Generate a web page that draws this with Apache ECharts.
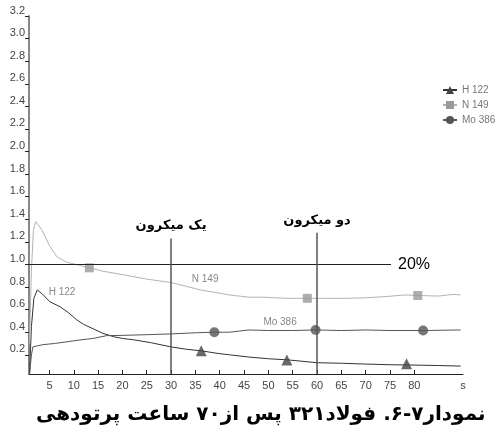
<!DOCTYPE html>
<html>
<head>
<meta charset="utf-8">
<script src="https://cdn.jsdelivr.net/npm/echarts@6/dist/echarts.min.js"></script>
<style>html,body{margin:0;padding:0;background:#fff}#c{width:495px;height:433px}</style>
</head>
<body>
<div id="c"></div>
<script>
// ---- data ----
var X_TICKS = [5,10,15,20,25,30,35,40,45,50,55,60,65,70,75,80];
var X_UNIT_AT = 90;
var Y_TICKS = [0.2,0.4,0.6,0.8,1.0,1.2,1.4,1.6,1.8,2.0,2.2,2.4,2.6,2.8,3.0,3.2];

var H_X = [0.9,1.3,1.8,2.5,3.5,5.1,7.2,9,10.6,12,14,16,18.2,20,22.3,26,30,33,36.2,40,42,46,50,54,60,65,70,75,78.5,85,89.5];
var H_Y = [0.02,0.45,0.70,0.775,0.74,0.67,0.625,0.57,0.51,0.47,0.43,0.39,0.36,0.345,0.333,0.306,0.27,0.25,0.235,0.21,0.20,0.18,0.165,0.155,0.13,0.125,0.118,0.112,0.11,0.105,0.10];

var N_X = [0.9,1.3,1.7,2.2,3.4,5.1,6.5,8.5,10.5,13.2,16,20,25,30,36,42,46,49,54,58,62,66,70,74,78,80.7,85,88,89.5];
var N_Y = [0.30,0.95,1.30,1.38,1.31,1.16,1.07,1.02,1.0,0.97,0.94,0.91,0.87,0.84,0.775,0.73,0.71,0.71,0.70,0.70,0.70,0.70,0.705,0.715,0.73,0.725,0.72,0.735,0.73];

var M_X = [0.9,1.3,1.6,3.7,6,8.6,11,14,16.8,20,25,30,35,38.9,42,46,50,55,59.7,65,70,75,81.8,89.5];
var M_Y = [0.02,0.20,0.27,0.29,0.30,0.315,0.33,0.345,0.37,0.372,0.378,0.385,0.395,0.40,0.40,0.42,0.415,0.415,0.42,0.415,0.42,0.415,0.415,0.42];

var H_MX = [36.2,53.8,78.4], H_MY = [0.235,0.155,0.12];
var N_MX = [13.2,58,80.7],   N_MY = [0.97,0.70,0.725];
var M_MX = [38.9,59.7,81.8], M_MY = [0.40,0.42,0.415];

var SERIES_NAMES = ['H 122','N 149','Mo 386'];
var LEVEL_Y = 1.0, LEVEL_END_X = 75.2, LEVEL_TEXT = '20%';
var MARK_X = [30, 60], MARK_TOP = [1.23, 1.28], MARK_TEXT = ['یک میکرون','دو میکرون'];
var CURVE_LABEL_X = [7.6, 37, 52.4], CURVE_LABEL_Y = [0.75, 0.865, 0.485];
var TITLE = 'نمودار۷-۶. فولاد۳۲۱ پس از۷۰ ساعت پرتودهی';

function zip(a,b){return a.map(function(v,i){return [v,b[i]];});}

var X_MIN = 0.8, Y_MIN = 0.03;
var colors = {line:['#333333','#b4b4b4','#555555'], mark:['#444444','#9a9a9a','#555555']};
var symbols = ['triangle','rect','circle'];
var lines = [zip(H_X,H_Y), zip(N_X,N_Y), zip(M_X,M_Y)];
var marks = [zip(H_MX,H_MY), zip(N_MX,N_MY), zip(M_MX,M_MY)];

var series = [];
SERIES_NAMES.forEach(function(name,i){
  series.push({
    name:name, type:'line', data:lines[i], showSymbol:false, symbol:symbols[i], symbolSize:9,
    lineStyle:{color:colors.line[i], width:1}, itemStyle:{color:colors.mark[i]},
    animation:false, z:3,
    markPoint:{symbol:'circle', symbolSize:0, silent:true, animation:false,
      label:{show:true, formatter:name, color:'#888', fontSize:10, fontFamily:'Liberation Sans', position:'inside'},
      data:[{coord:[CURVE_LABEL_X[i], CURVE_LABEL_Y[i]]}]}
  });
  series.push({
    name:name, type:'scatter', data:marks[i], symbol:symbols[i], symbolSize:i===0?11:(i===1?9:10),
    itemStyle:{color:colors.mark[i]}, animation:false, z:4
  });
});
series[0].markLine = {
  silent:true, symbol:['none','none'], animation:false,
  data:[
    [{coord:[X_MIN, LEVEL_Y], lineStyle:{color:'#222', width:1, type:'solid'},
      label:{show:true, position:'end', formatter:LEVEL_TEXT, fontSize:16, color:'#000', fontFamily:'Liberation Sans', distance:7}},
     {coord:[LEVEL_END_X, LEVEL_Y]}],
    [{coord:[MARK_X[0], Y_MIN], lineStyle:{color:'#555', width:1.5, type:'solid'},
      label:{show:true, position:'end', formatter:MARK_TEXT[0], fontSize:13, fontWeight:'bold', color:'#000', fontFamily:'DejaVu Sans', distance:6}},
     {coord:[MARK_X[0], MARK_TOP[0]]}],
    [{coord:[MARK_X[1], Y_MIN], lineStyle:{color:'#555', width:1.5, type:'solid'},
      label:{show:true, position:'end', formatter:MARK_TEXT[1], fontSize:13, fontWeight:'bold', color:'#000', fontFamily:'DejaVu Sans', distance:6}},
     {coord:[MARK_X[1], MARK_TOP[1]]}]
  ]
};

var chart = echarts.init(document.getElementById('c'), null, {renderer:'canvas'});
chart.setOption({
  animation:false,
  backgroundColor:'#fff',
  title:{text:TITLE, left:31, top:400,
    textStyle:{fontSize:20, fontWeight:'bold', color:'#000', fontFamily:'DejaVu Sans'}},
  legend:{orient:'vertical', left:437, top:80, itemWidth:14, itemHeight:10, itemGap:5,
    data:SERIES_NAMES, textStyle:{fontSize:10, color:'#777', fontFamily:'Liberation Sans'}},
  grid:{left:29, right:32, top:16, bottom:59, containLabel:false},
  xAxis:{type:'value', min:X_MIN, max:X_UNIT_AT,
    axisLine:{show:true, lineStyle:{color:'#222', width:1}},
    axisTick:{show:true, inside:true, length:4, lineStyle:{color:'#222'}, customValues:X_TICKS},
    axisLabel:{customValues:X_TICKS.concat([X_UNIT_AT]), margin:6, fontSize:11, color:'#444', fontFamily:'Liberation Sans',
      formatter:function(v){return v===X_UNIT_AT?'s':String(v);}},
    splitLine:{show:false}},
  yAxis:{type:'value', min:Y_MIN, max:3.2,
    axisLine:{show:true, lineStyle:{color:'#888', width:2}},
    axisTick:{show:true, length:4, lineStyle:{color:'#222'}, customValues:Y_TICKS},
    axisLabel:{customValues:Y_TICKS, margin:4, fontSize:11, color:'#444', fontFamily:'Liberation Sans', verticalAlign:'bottom',
      formatter:function(v){return v.toFixed(1);}},
    splitLine:{show:false}},
  series:series
});
</script>
</body>
</html>
